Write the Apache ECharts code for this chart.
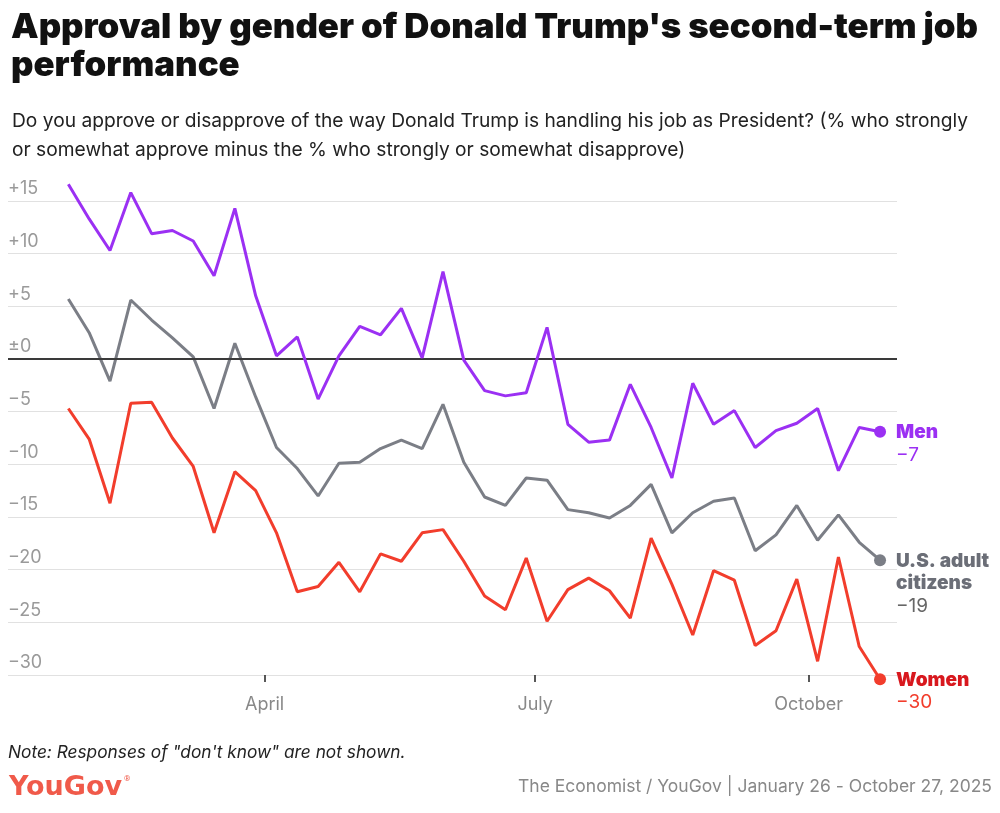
<!DOCTYPE html>
<html>
<head>
<meta charset="utf-8">
<script src="https://cdn.jsdelivr.net/npm/echarts@6/dist/echarts.min.js"></script>
<style>
html,body{margin:0;padding:0;background:#fff;}
#chart{width:1000px;height:813px;}
</style>
</head>
<body>
<div id="chart"></div>
<script>
// ---- Data ----
const dates = [
  '2025-01-25','2025-02-01','2025-02-08','2025-02-15','2025-02-22',
  '2025-03-01','2025-03-08','2025-03-15','2025-03-22','2025-03-29',
  '2025-04-05','2025-04-12','2025-04-19','2025-04-26','2025-05-03',
  '2025-05-10','2025-05-17','2025-05-24','2025-05-31','2025-06-07',
  '2025-06-14','2025-06-21','2025-06-28','2025-07-05','2025-07-12',
  '2025-07-19','2025-07-26','2025-08-02','2025-08-09','2025-08-16',
  '2025-08-23','2025-08-30','2025-09-06','2025-09-13','2025-09-20',
  '2025-09-27','2025-10-04','2025-10-11','2025-10-18','2025-10-25'
];
const men = [16.6, 13.3, 10.3, 15.8, 11.9, 12.2, 11.2, 7.9, 14.3, 6.0,
  0.3, 2.1, -3.8, 0.3, 3.1, 2.3, 4.8, 0.1, 8.3, -0.1,
  -3.0, -3.5, -3.2, 3.0, -6.2, -7.9, -7.7, -2.4, -6.5, -11.3,
  -2.3, -6.2, -4.9, -8.4, -6.8, -6.1, -4.7, -10.6, -6.5, -6.9];
const adults = [5.7, 2.5, -2.1, 5.6, 3.7, 2.0, 0.2, -4.7, 1.5, -3.6,
  -8.4, -10.4, -13.0, -9.9, -9.8, -8.5, -7.7, -8.5, -4.3, -9.8,
  -13.1, -13.9, -11.3, -11.5, -14.3, -14.6, -15.1, -13.9, -11.9, -16.5,
  -14.6, -13.5, -13.2, -18.2, -16.7, -13.9, -17.2, -14.8, -17.4, -19.1];
const women = [-4.7, -7.6, -13.7, -4.2, -4.1, -7.5, -10.2, -16.5, -10.7, -12.5,
  -16.5, -22.1, -21.6, -19.3, -22.1, -18.5, -19.2, -16.5, -16.2, -19.2,
  -22.5, -23.8, -18.9, -24.9, -21.9, -20.8, -22.0, -24.6, -17.0, -21.4,
  -26.2, -20.1, -21.0, -27.2, -25.8, -20.9, -28.7, -18.8, -27.3, -30.4];
const seriesNames = ['Men', 'U.S. adult\ncitizens', 'Women'];
const monthTicks = ['2025-04-01', '2025-07-01', '2025-10-01'];
const monthLabels = ['April', 'July', 'October'];

// ---- Helpers ----
// day number since 2025-01-01 (UTC)
const dayNum = s => { const p = s.split('-').map(Number); return (Date.UTC(p[0], p[1]-1, p[2]) - Date.UTC(2025, 0, 1)) / 864e5; };
const fmtSigned = v => v > 0 ? '+' + v : (v === 0 ? '\u00b10' : '\u2212' + Math.abs(v));
const tickDays = monthTicks.map(dayNum);

const colors = {
  men: '#9b30f3', menLabel: '#9b30f3',
  adults: '#7b7e86', adultsLabel: '#6b6e77', adultsVal: '#666666',
  women: '#f23d2c', womenLabel: '#d8181e'
};
const FONT = 'Inter, "Open Sans", sans-serif';

function buildData(vals, labelCfg) {
  return vals.map((v, i) => {
    const item = { value: [dayNum(dates[i]), v] };
    if (i === vals.length - 1) {
      item.symbol = 'circle';
      item.symbolSize = 12;
      item.label = labelCfg;
    }
    return item;
  });
}
function endLabel(name, value, nameColor, valColor, lines) {
  const nameParts = name.split('\n').map(t => '{n|' + t + '}').join('\n');
  return {
    show: true,
    position: 'right',
    distance: 10,
    offset: [0, 11.25 * (lines - 1) + 1],
    formatter: nameParts + '\n{v|' + fmtSigned(Math.round(value)) + '}',
    rich: {
      n: { fontFamily: FONT, fontWeight: 900, fontSize: 19, color: nameColor, lineHeight: 22.5 },
      v: { fontFamily: FONT, fontSize: 19, color: valColor, lineHeight: 22.5 }
    }
  };
}

const chart = echarts.init(document.getElementById('chart'), null, { renderer: 'canvas' });
const option = {
  backgroundColor: '#fff',
  animation: false,
  title: [
    {
      text: "Approval by gender of Donald Trump's second-term job\nperformance",
      left: 6, top: 4,
      textStyle: { fontFamily: FONT, fontSize: 34.8, fontWeight: 900, color: '#111', lineHeight: 38 }
    },
    {
      text: 'Do you approve or disapprove of the way Donald Trump is handling his job as President? (% who strongly\nor somewhat approve minus the % who strongly or somewhat disapprove)',
      left: 7, top: 102,
      textStyle: { fontFamily: FONT, fontSize: 19.2, fontWeight: 'normal', color: '#222', lineHeight: 28.5 }
    }
  ],
  grid: { left: 8, right: 103, top: 201, bottom: 138, containLabel: false },
  xAxis: {
    type: 'value',
    min: dayNum(dates[0]) - 20.3,
    max: dayNum(dates[dates.length - 1]) + 5.7,
    axisLine: { show: false, onZero: false },
    splitLine: { show: false },
    axisTick: { show: true, customValues: tickDays, length: 7, lineStyle: { color: '#222', width: 1.5 } },
    axisLabel: {
      show: true, customValues: tickDays, margin: 21,
      fontFamily: FONT, fontSize: 18, color: '#888',
      formatter: v => { const i = tickDays.indexOf(v); return i >= 0 ? monthLabels[i] : ''; }
    }
  },
  yAxis: {
    type: 'value',
    min: -30, max: 15, interval: 5,
    axisLine: { show: false },
    axisTick: { show: false },
    splitLine: { show: true, lineStyle: { color: '#e1e1e1', width: 1.2 } },
    axisLabel: {
      inside: true, margin: 0, align: 'left', verticalAlign: 'bottom',
      padding: [0, 0, 3, 0],
      fontFamily: FONT, fontSize: 18, color: '#9a9a9a',
      formatter: v => fmtSigned(v)
    }
  },
  series: [
    {
      name: 'Men', type: 'line', clip: false, symbol: 'none', z: 5,
      lineStyle: { color: colors.men, width: 3 }, itemStyle: { color: colors.men },
      data: buildData(men, endLabel(seriesNames[0], men[men.length-1], colors.menLabel, colors.men, 2)),
      markLine: {
        silent: true, symbol: 'none', label: { show: false },
        lineStyle: { color: '#3a3a3a', width: 2, type: 'solid' },
        data: [{ yAxis: 0 }]
      }
    },
    {
      name: 'U.S. adult citizens', type: 'line', clip: false, symbol: 'none', z: 4,
      lineStyle: { color: colors.adults, width: 3 }, itemStyle: { color: colors.adults },
      data: buildData(adults, endLabel(seriesNames[1], adults[adults.length-1], colors.adultsLabel, colors.adultsVal, 3))
    },
    {
      name: 'Women', type: 'line', clip: false, symbol: 'none', z: 3,
      lineStyle: { color: colors.women, width: 3 }, itemStyle: { color: colors.women },
      data: buildData(women, endLabel(seriesNames[2], women[women.length-1], colors.womenLabel, colors.women, 2))
    }
  ],
  graphic: [
    {
      type: 'text', left: 8, top: 744,
      style: { text: 'Note: Responses of "don\'t know" are not shown.', fontFamily: FONT, fontStyle: 'italic', fontSize: 17.3, fill: '#222' }
    },
    {
      type: 'text', x: 9, y: 788,
      style: { text: 'YouGov', fontFamily: '"DejaVu Sans", sans-serif', fontWeight: 'bold', fontSize: 27, fill: '#f05a4a', verticalAlign: 'middle', align: 'left' }
    },
    {
      type: 'text', x: 124, y: 779,
      style: { text: '\u00ae', fontFamily: 'Roboto, sans-serif', fontSize: 8, fill: '#f05a4a', verticalAlign: 'middle', align: 'left' }
    },
    {
      type: 'text', right: 8, top: 778,
      style: { text: 'The Economist / YouGov | January 26 - October 27, 2025', fontFamily: FONT, fontSize: 17.5, fill: '#888', align: 'right' }
    }
  ]
};
chart.setOption(option);
</script>
</body>
</html>
